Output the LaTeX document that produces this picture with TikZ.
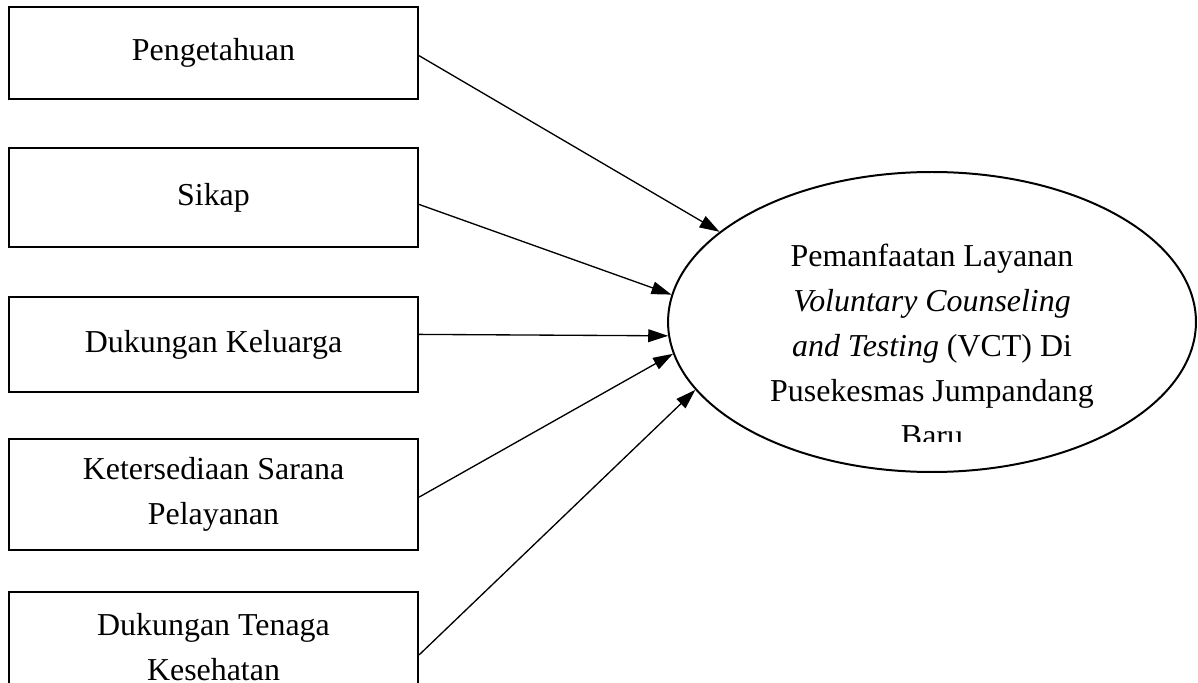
\documentclass[tikz,border=0pt]{standalone}
\usepackage{fontspec}
\setmainfont{Liberation Serif}
\usetikzlibrary{shapes,arrows.meta,positioning,calc}

\tikzset{
	faktor/.style={draw, line width=0.75pt, minimum width=153.8pt, inner sep=0pt, align=center, font=\fontsize{12}{17}\selectfont},
	panah/.style={-{Triangle[length=7.5pt,width=4.8pt]}, line width=0.5pt}
}

\begin{document}
\begin{tikzpicture}[x=0.376pt, y=-0.376pt]
	\useasboundingbox (0,0) rectangle (1198,683);

	% faktor-faktor
	\node[faktor, minimum height=34.6pt] (peng) at (213.5,53) {Pengetahuan};
	\node[faktor, minimum height=37.2pt] (sikap) at (213.5,197.5) {Sikap};
	\node[faktor, minimum height=35.7pt] (keluarga) at (213.5,344.5) {Dukungan Keluarga};
	\node[faktor, minimum height=41.7pt] (sarana) at (213.5,494.5) {Ketersediaan Sarana\\Pelayanan};
	\node[faktor, minimum height=41.4pt] (tenaga) at (213.5,647) {Dukungan Tenaga\\Kesehatan};

	% pemanfaatan VCT
	\node[draw, ellipse, line width=0.75pt, minimum width=198.5pt, minimum height=112.8pt, inner sep=0pt] (vct) at (932,322) {};
	\begin{scope}
		\clip (668,150) rectangle (1196,441);
		\node[anchor=north, inner sep=0pt, align=center, font=\fontsize{12}{17}\selectfont] (judul) at (932,243)
			{Pemanfaatan Layanan\\\textit{Voluntary Counseling}\\\textit{and Testing} (VCT) Di\\Pusekesmas Jumpandang\\Baru};
	\end{scope}

	% panah
	\foreach \src/\dy/\ang in {peng/-1/157.5, sikap/-2.6/174.2, keluarga/3.8/183.5, sarana/-1/187.7, tenaga/-3/196.6} {
		\draw[panah] ([yshift=\dy pt]\src.east) -- (vct.\ang);
	}
\end{tikzpicture}
\end{document}
